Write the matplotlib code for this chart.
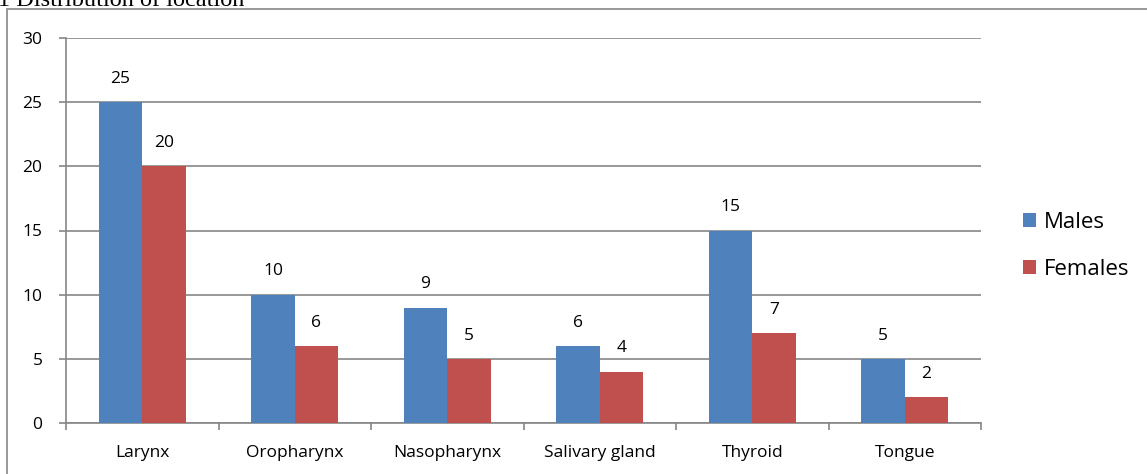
import matplotlib
matplotlib.use("Agg")
from matplotlib import pyplot as plt
from matplotlib.patches import Rectangle
import numpy as np

categories = ["Larynx", "Oropharynx", "Nasopharynx", "Salivary gland", "Thyroid", "Tongue"]
males = [25, 10, 9, 6, 15, 5]
females = [20, 6, 5, 4, 7, 2]
yticks = [0, 5, 10, 15, 20, 25, 30]

W, H = 1147, 474
fig = plt.figure(figsize=(W / 100, H / 100), dpi=100)
plt.rcParams['font.family'] = ['Open Sans', 'DejaVu Sans']

# outer chart frame (runs off the right/bottom edge)
fig.patches.append(Rectangle((7 / W, -0.1), 1.2, 1 - 9 / H + 0.1, transform=fig.transFigure,
                             fill=False, edgecolor='#868686', linewidth=1.2))
fig.text(-2 / W, 1 - 6 / H, "1 Distribution of location", family='Liberation Serif',
         fontsize=17.5, va='baseline', ha='left')

ax = fig.add_axes([66 / W, 1 - 423 / H, (981 - 66) / W, (423 - 38) / H])
x = np.arange(len(categories))
bw = 0.285
c_m, c_f = '#4F81BD', '#C0504D'
b1 = ax.bar(x - bw / 2, males, bw, color=c_m, label='Males', zorder=3)
b2 = ax.bar(x + bw / 2, females, bw, color=c_f, label='Females', zorder=3)
for bars, vals in ((b1, males), (b2, females)):
    for r, v in zip(bars, vals):
        ax.annotate(str(v), (r.get_x() + r.get_width() / 2, v), xytext=(0, 11),
                    textcoords='offset points', ha='center', va='bottom', fontsize=12.5)

ax.set_xlim(-0.5, len(categories) - 0.5)
ax.set_ylim(0, 30)
ax.set_yticks(yticks)
ax.yaxis.grid(True, color='#868686', linewidth=1.2, zorder=0)
ax.set_xticks(x)
ax.set_xticklabels(categories, fontsize=12.5)
ax.set_xticks(np.arange(-0.5, len(categories)), minor=True)
ax.tick_params(axis='x', which='major', length=0, pad=16)
ax.tick_params(axis='x', which='minor', length=5, width=1.2, color='#868686')
ax.tick_params(axis='y', length=5, width=1.2, color='#868686', labelsize=12.5, pad=12)
for s in ('top', 'right'):
    ax.spines[s].set_visible(False)
for s in ('left', 'bottom'):
    ax.spines[s].set_color('#868686')
    ax.spines[s].set_linewidth(1.2)

ax.legend(loc='center left', bbox_to_anchor=(1.024, 0.46), frameon=False, fontsize=16,
          handlelength=0.6, handleheight=0.6, handletextpad=0.35, labelspacing=1.2)

plt.savefig('out.png', dpi=100)
